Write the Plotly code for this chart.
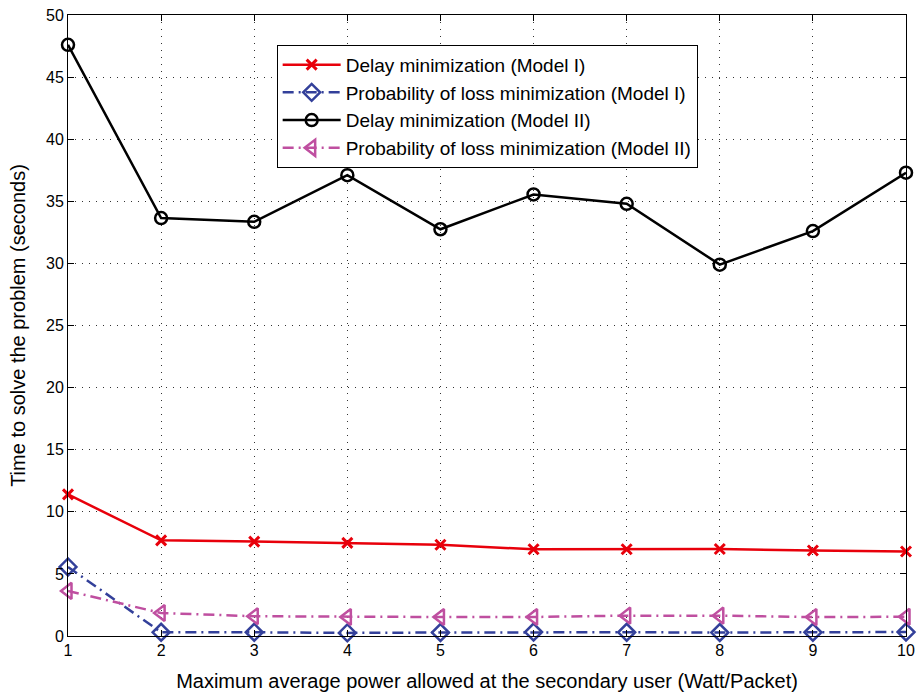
import plotly.graph_objects as go

x_power = [1, 2, 3, 4, 5, 6, 7, 8, 9, 10]
delay_m1 = [11.4, 7.7, 7.6, 7.5, 7.35, 6.98, 6.98, 7.0, 6.88, 6.8]
loss_m1 = [5.56, 0.3, 0.3, 0.25, 0.28, 0.32, 0.3, 0.28, 0.3, 0.32]
delay_m2 = [47.6, 33.65, 33.35, 37.1, 32.75, 35.55, 34.8, 29.9, 32.6, 37.3]
loss_m2 = [3.63, 1.85, 1.59, 1.53, 1.53, 1.53, 1.64, 1.64, 1.52, 1.55]

names = ["Delay minimization (Model I)",
         "Probability of loss minimization (Model I)",
         "Delay minimization (Model II)",
         "Probability of loss minimization (Model II)"]

fig = go.Figure()
fig.add_trace(go.Scatter(x=x_power, y=delay_m1, name=names[0], mode="lines+markers",
                         cliponaxis=False,
                         line=dict(color="#e8000b", width=2.5),
                         marker=dict(symbol="x-thin-open", size=10, color="#e8000b",
                                     line=dict(width=3, color="#e8000b"))))
fig.add_trace(go.Scatter(x=x_power, y=loss_m1, name=names[1], mode="lines+markers",
                         cliponaxis=False,
                         line=dict(color="#33409a", width=2.5, dash="11px,5px,2px,5px"),
                         marker=dict(symbol="diamond-open", size=13, color="#33409a",
                                     line=dict(width=2.5, color="#33409a"))))
fig.add_trace(go.Scatter(x=x_power, y=delay_m2, name=names[2], mode="lines+markers",
                         cliponaxis=False,
                         line=dict(color="black", width=2.5),
                         marker=dict(symbol="circle-open", size=12, color="black",
                                     line=dict(width=2.5, color="black"))))
fig.add_trace(go.Scatter(x=x_power, y=loss_m2, name=names[3], mode="lines+markers",
                         cliponaxis=False,
                         line=dict(color="#bf4fa0", width=2.5, dash="11px,5px,2px,5px"),
                         marker=dict(symbol="triangle-left-open", size=14, color="#bf4fa0",
                                     line=dict(width=2.5, color="#bf4fa0"))))

axis_common = dict(showline=True, linecolor="black", linewidth=1, mirror="ticks",
                   ticks="inside", ticklen=6, tickcolor="black", automargin=False,
                   showgrid=True, gridcolor="#333333", griddash="1px,6px", gridwidth=1,
                   zeroline=False, tickfont=dict(family="Liberation Sans, Arial", size=16, color="black"))

fig.update_layout(
    width=919, height=692,
    paper_bgcolor="white", plot_bgcolor="white",
    margin=dict(l=68, r=13, t=15, b=56),
    font=dict(family="Liberation Sans, Arial", size=20, color="black"),
    xaxis=dict(range=[1, 10], tickmode="array", tickvals=x_power,
               title=dict(text="Maximum average power allowed at the secondary user (Watt/Packet)",
                          font=dict(size=20)),
               **axis_common),
    yaxis=dict(range=[0, 50], tickmode="array", tickvals=list(range(0, 51, 5)),
               title=dict(text="Time to solve the problem (seconds)", font=dict(size=20)),
               **axis_common),
    legend=dict(x=0.249, y=0.952, xanchor="left", yanchor="top",
                bgcolor="white", bordercolor="black", borderwidth=1,
                font=dict(size=19), tracegroupgap=0, itemwidth=58),
)

fig.write_html("out.html", config={"displayModeBar": False},
               post_script="document.body.style.margin='0';")
